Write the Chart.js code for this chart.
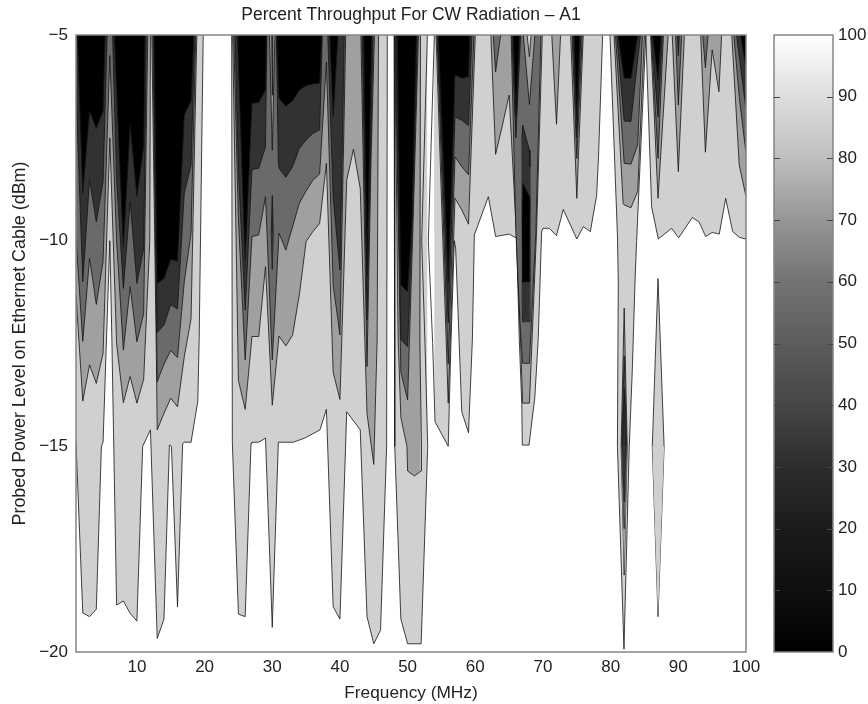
<!DOCTYPE html>
<html>
<head>
<meta charset="utf-8">
<title>Percent Throughput For CW Radiation</title>
<script src="https://cdn.jsdelivr.net/npm/chart.js@4"></script>
<style>
  body { margin: 0; background: #fff; }
  canvas { position: absolute; top: 0; }
  #contourChart { left: 0; }
  #colorbarChart { left: 740px; }
</style>
</head>
<body>
<canvas id="contourChart" width="868" height="704"></canvas>
<canvas id="colorbarChart" width="128" height="704"></canvas>
<script>
// tick labels
const freqTicks = [10, 20, 30, 40, 50, 60, 70, 80, 90, 100];
const powerTicks = [-5, -10, -15, -20];
const colorbarTicks = [0, 10, 20, 30, 40, 50, 60, 70, 80, 90, 100];
// colorbar grey at every 10 percent
const colorbarGreys = [0, 15, 27, 45, 70, 92, 115, 150, 190, 222, 255];

// contour lines as [MHz, dBm]. Region above a line is darker than the one below
const level100 = [[1,-14.9],[2,-19.05],[3,-19.14],[4,-18.96],[4.75,-15],[5,-14.9],[5.45,-12.66],[6,-10],[6.3,-12.4],[7,-18.86],[8,-18.76],[9,-19.06],[10,-19.25],[10.85,-15],[12,-14.6],[13,-19.67],[14,-19.2],[14.8,-14.97],[15.1,-15],[16,-18.9],[16.76,-14.93],[17,-14.9],[18,-14.9],[19,-13.9],[19.2,-12.4],[19.8,-5],[24,-5],[24.1,-14.9],[25,-19.08],[26,-19.14],[26.86,-14.93],[27,-14.9],[28,-14.9],[29,-14.8],[30,-19.4],[30.9,-14.9],[32,-14.9],[33.1,-14.9],[34.8,-14.8],[37.05,-14.6],[38,-14.1],[39,-18.9],[40,-19.2],[41,-14.16],[43,-14.6],[44,-19.14],[45,-19.8],[46,-19.47],[46.9,-15],[47,-5],[48,-5],[48.1,-15],[49,-19.2],[50,-19.8],[52,-19.8],[52.97,-15],[52.57,-12.5],[52.08,-10],[52.92,-5],[53.95,-5],[53.06,-10],[53.7,-12.5],[54.05,-14.4],[56,-15],[56.4,-12.5],[56.9,-10],[57.1,-10.2],[57.6,-12.4],[58,-14.16],[59,-14.67],[59.57,-12.4],[59.86,-9.86],[61.93,-8.93],[63,-9.9],[65,-9.84],[66.1,-9.94],[66.5,-12.4],[66.86,-13.95],[66.95,-14.97],[67.94,-14.97],[68.8,-13.8],[69.3,-12.4],[69.8,-9.78],[70,-9.7],[70.94,-9.7],[72,-9.88],[73,-9.24],[75,-9.96],[75.96,-9.66],[77,-9.78],[77.93,-8.9],[78.2,-8],[78.82,-5],[79.9,-5],[81,-9.86],[81.13,-11],[81,-15],[81.97,-19.93],[82.75,-15],[83.2,-13.15],[83.6,-11],[83.84,-10],[85.2,-5],[86.05,-9.17],[87.04,-9.96],[89,-9.7],[90.05,-9.93],[92.06,-9.44],[93.05,-9.54],[94.04,-9.9],[95.02,-9.8],[96.05,-9.84],[97,-8.97],[98.03,-9.78],[99.01,-9.92],[100,-9.96]];
const level80 = [[1,-11.32],[2,-13.9],[3,-13.02],[4,-13.47],[5,-12.74],[6,-7.5],[7,-12.5],[8,-13.94],[9,-13.3],[10,-13.95],[11,-13.37],[11.9,-10],[12,-5],[12.2,-5],[12.85,-12.5],[13,-14.6],[14,-14.2],[15,-13.83],[16,-14.04],[17,-12.82],[18,-11.9],[18.85,-5],[24.15,-5],[24.9,-12.4],[25,-13.4],[26,-14.1],[27,-12.33],[28,-12.33],[29,-10.63],[30,-14],[31,-12.32],[32,-12.56],[33,-12.3],[34,-11.32],[35,-10.02],[36,-9.78],[37,-9.58],[38,-8.12],[39,-13.2],[40,-13.86],[41,-8.53],[42,-7.78],[43,-8.73],[44,-14.2],[45,-15.44],[45.5,-12.4],[45.7,-5],[48.1,-5],[48.6,-12.4],[49,-14.3],[49.9,-15],[50,-15.6],[51,-15.72],[52,-15.6],[52.05,-15],[51.8,-12.4],[51.9,-5],[54.2,-5],[56,-13.95],[57,-8.97],[58,-9.25],[59,-9.6],[60,-5],[62.3,-5],[63,-7.9],[64,-7.2],[65,-6.46],[66.1,-9.9],[66.7,-12.5],[67,-13.95],[68,-13.95],[69.05,-9.8],[69.9,-5],[71.3,-5],[72,-7.17],[72.6,-5],[74.1,-5],[75,-8.97],[75.95,-5],[80.5,-5],[81.85,-9.1],[82,-9.13],[83,-9.2],[84,-8.8],[85,-5],[85.9,-5],[87,-8.97],[88.5,-5],[89.1,-5],[90,-8.32],[90.9,-5],[93.3,-5],[94,-7.85],[95,-5.36],[96,-6.38],[96.4,-5],[97.9,-5],[99,-8.16],[100,-8.93]];
const level60 = [[1,-9.94],[2,-12.45],[3,-10.43],[4,-11.55],[5,-10.5],[6,-5.5],[7,-10],[8,-12.66],[9,-11.12],[10,-12.46],[11,-11.77],[11.6,-5],[12.35,-5],[13,-13.43],[14,-13],[15,-12.67],[16,-12.84],[17,-11],[18,-9.82],[18.7,-5],[24.3,-5],[25,-9.5],[26,-12.9],[27,-9.9],[28,-9.86],[29,-8.93],[30,-12.9],[31,-9.82],[32,-10.23],[33,-9.66],[34,-9.09],[35,-8.79],[36,-8.53],[37,-8.38],[38,-5.66],[39,-11.08],[40,-12.29],[40.85,-5],[43.1,-5],[44,-13.06],[44.6,-8],[45.1,-5],[48.15,-5],[49,-13.2],[50,-13.87],[50.8,-9.6],[51.6,-5],[54.35,-5],[56,-13],[57,-7.96],[58,-8.2],[59,-8.4],[59.8,-5],[62.65,-5],[63,-5.9],[63.75,-5],[65.3,-5],[66,-9.8],[66.6,-12],[67,-12.98],[68,-12.98],[68.95,-9.8],[69.7,-5],[74.3,-5],[75,-8],[75.8,-5],[80.7,-5],[82,-8.12],[83,-8.14],[84,-7.67],[84.7,-5],[86,-5],[87,-8],[87.8,-5],[89.6,-5],[90,-6.7],[90.5,-5],[93.6,-5],[94,-5.8],[94.4,-5],[98.2,-5],[99,-6.5],[100,-7.88]];
const level40 = [[1,-6.3],[2,-11],[3,-8.52],[4,-9.54],[5,-8.56],[5.6,-5],[6.4,-5],[7,-8.5],[8,-11.16],[9,-9.05],[10,-11.04],[11,-10.2],[11.4,-5],[12.45,-5],[13,-12.23],[14,-12.05],[15,-11.55],[16,-11.66],[17,-8.85],[18,-8.16],[18.55,-5],[24.5,-5],[25,-8.3],[26,-11.69],[27,-8.27],[28,-8.24],[29,-7.72],[29.2,-5],[30.6,-5],[30.9,-8.1],[31,-8.24],[32,-8.46],[33,-8.2],[34,-7.76],[35,-7.55],[36,-7.39],[37,-7.31],[37.4,-5],[38.2,-5],[39,-8.97],[40,-10.71],[40.65,-5],[43.3,-5],[44,-11.93],[44.9,-5],[48.25,-5],[49,-12.4],[50,-12.58],[50.7,-9.6],[51.45,-5],[54.45,-5],[56,-12],[57,-6.99],[58,-7.07],[59,-7.2],[59.5,-5],[65.4,-5],[66,-7.5],[66.7,-5],[74.45,-5],[75,-7.5],[75.6,-5],[80.9,-5],[82,-7.09],[83,-7.1],[84,-5.6],[84.4,-5],[86.05,-5],[87,-7],[87.65,-5],[89.85,-5],[90,-5.5],[90.15,-5],[98.6,-5],[100,-6.8]];
const level20 = [[1,-5],[1.2,-5],[2,-8.85],[3,-6.85],[4,-7.27],[5,-6.85],[5.3,-5],[6.65,-5],[8,-10.15],[9,-7.19],[10,-8.93],[11,-7.7],[11.2,-5],[12.55,-5],[13,-11.04],[14,-10.92],[15,-10.45],[16,-10.5],[17,-6.94],[18,-6.6],[18.4,-5],[24.85,-5],[26,-10.47],[27,-6.66],[28,-6.64],[29,-6.34],[29.15,-5],[30.65,-5],[31,-6.54],[32,-6.73],[33,-6.6],[34,-6.34],[35,-6.23],[36,-6.19],[37,-6.17],[37.3,-5],[38.5,-5],[39,-6.99],[39.7,-5],[43.5,-5],[44,-10.83],[44.7,-5],[48.45,-5],[49,-11.08],[50,-11.24],[50.6,-9.6],[51.3,-5],[54.55,-5],[56,-11],[57,-5.97],[58,-6.05],[59,-6.01],[59.2,-5],[65.6,-5],[66,-6.95],[66.55,-5],[74.6,-5],[75,-7.03],[75.45,-5],[81.1,-5],[82,-6.05],[83,-6.05],[84,-5],[86.2,-5],[87,-6.1],[87.45,-5],[99.2,-5],[100,-5.8]];

// wedges hanging from the top edge, where a column gets lighter again
const wedge30Mid = [[29.6,-5],[30,-7.8],[30.4,-5]];
const wedge30Dark = [[29.92,-5],[30,-6.46],[30.08,-5]];
const wedge68Mid = [[67.1,-5],[68,-6.69],[68.8,-5]];
const wedge68Light = [[67.65,-5],[68,-5.53],[68.25,-5]];

// closed islands, each an upper and a lower edge
const island30Upper = [[29.85,-9.8],[30,-8.9],[30.15,-9.8]];
const island30Lower = [[29.85,-9.8],[30,-10.7],[30.15,-9.8]];
const island67DarkUpper = [[66.9,-7.5],[67,-7.19],[68,-7.8],[68.08,-8.2]];
const island67DarkLower = [[66.9,-7.5],[66.95,-11.8],[67,-11.97],[68,-11.97],[68.08,-8.2]];
const island67BlackUpper = [[66.95,-9],[67,-8.6],[68,-8.93],[68.05,-9.3]];
const island67BlackLower = [[66.95,-9],[67,-11],[68,-11],[68.05,-9.3]];
const island82MidUpper = [[81.55,-15],[82,-11.64],[82.45,-15]];
const island82MidLower = [[81.55,-15],[82,-18.13],[82.45,-15]];
const island82GreyUpper = [[81.65,-15],[82,-12.8],[82.35,-15]];
const island82GreyLower = [[81.65,-15],[82,-17],[82.35,-15]];
const island82DarkUpper = [[81.75,-15],[82,-13.58],[82.25,-15]];
const island82DarkLower = [[81.75,-15],[82,-16.35],[82.25,-15]];
const island87Upper = [[86.15,-15],[87,-10.92],[87.9,-15]];
const island87Lower = [[86.15,-15],[87,-19.14],[87.9,-15]];

const LIGHT = 'rgb(208,208,208)';
const MID = 'rgb(160,160,160)';
const GREY = 'rgb(106,106,106)';
const DARK = 'rgb(50,50,50)';
const BLACK = 'rgb(0,0,0)';
const LINE = 'rgba(20,20,20,0.8)';
const FAMILY = '"Liberation Sans", Helvetica, Arial, sans-serif';
const FONT = { family: FAMILY, size: 17 };
const TEXT = '#222';

function contour(points, colour) {
    return {
        data: points,
        fill: 'end',
        backgroundColor: colour,
        borderColor: LINE,
        borderWidth: 1,
        pointRadius: 0,
        tension: 0,
        // no stroke where the line only runs along the top edge
        segment: { borderColor: c => (c.p0.parsed.y === -5 && c.p1.parsed.y === -5) ? 'transparent' : undefined }
    };
}

function island(upper, lower, colour) {
    const top = { data: upper, fill: '+1', backgroundColor: colour, borderColor: LINE, borderWidth: 1, pointRadius: 0, tension: 0 };
    const bottom = { data: lower, fill: false, borderColor: LINE, borderWidth: 1, pointRadius: 0, tension: 0 };
    return [top, bottom];
}

// first dataset is painted last, so the darkest and the small shapes come first
const datasets = [
    ...island(island67BlackUpper, island67BlackLower, BLACK),
    ...island(island67DarkUpper, island67DarkLower, DARK),
    ...island(island30Upper, island30Lower, DARK),
    ...island(island82DarkUpper, island82DarkLower, DARK),
    ...island(island82GreyUpper, island82GreyLower, GREY),
    ...island(island82MidUpper, island82MidLower, MID),
    ...island(island87Upper, island87Lower, LIGHT),
    contour(wedge30Dark, DARK),
    contour(wedge30Mid, MID),
    contour(wedge68Light, LIGHT),
    contour(wedge68Mid, MID),
    contour(level20, BLACK),
    contour(level40, DARK),
    contour(level60, GREY),
    contour(level80, MID),
    contour(level100, LIGHT)
];

const frame = {
    id: 'frame',
    afterDatasetsDraw(chart) {
        const a = chart.chartArea, ctx = chart.ctx;
        ctx.save();
        ctx.strokeStyle = '#858585';
        ctx.lineWidth = 1.5;
        ctx.strokeRect(a.left, a.top, a.right - a.left, a.bottom - a.top);
        ctx.restore();
    }
};

new Chart(document.getElementById('contourChart'), {
    type: 'line',
    data: { datasets: datasets },
    options: {
        responsive: false,
        animation: false,
        layout: { padding: { right: 122 } },
        plugins: {
            legend: { display: false },
            tooltip: { enabled: false },
            title: {
                display: true,
                fullSize: false,
                text: 'Percent Throughput For CW Radiation \u2013 A1',
                color: TEXT,
                font: { family: FAMILY, size: 17.5, weight: 'normal' },
                padding: { top: 5, bottom: 9 }
            }
        },
        scales: {
            x: {
                type: 'linear',
                min: 1,
                max: 100,
                grid: { display: false, drawTicks: false },
                border: { display: false },
                afterBuildTicks: s => { s.ticks = freqTicks.map(v => ({ value: v })); },
                afterFit: s => { s.height = 52; s.paddingLeft = 0; s.paddingRight = 0; },
                ticks: { color: TEXT, font: FONT, padding: 5, maxRotation: 0, autoSkip: false },
                title: { display: true, text: 'Frequency (MHz)', color: TEXT, font: { family: FAMILY, size: 17.3 }, padding: { top: 0, bottom: 0 } }
            },
            y: {
                min: -20,
                max: -5,
                grid: { display: false, drawTicks: false },
                border: { display: false },
                afterBuildTicks: s => { s.ticks = powerTicks.map(v => ({ value: v })); },
                afterFit: s => { s.width = 76; s.paddingTop = 0; s.paddingBottom = 0; },
                ticks: { color: TEXT, font: FONT, padding: 8, autoSkip: false, callback: v => String(v).replace('-', '\u2212') },
                title: { display: true, text: 'Probed Power Level on Ethernet Cable (dBm)', color: TEXT, font: { family: FAMILY, size: 17.9 }, padding: { top: 9, bottom: 0 } }
            }
        }
    },
    plugins: [frame]
});

const colorbarTickMarks = {
    id: 'colorbarTickMarks',
    afterDatasetsDraw(chart) {
        const a = chart.chartArea, ctx = chart.ctx, y = chart.scales.y;
        ctx.save();
        ctx.strokeStyle = '#444';
        ctx.lineWidth = 1;
        colorbarTicks.slice(1, -1).forEach(v => {
            const py = Math.round(y.getPixelForValue(v)) + 0.5;
            ctx.beginPath();
            ctx.moveTo(a.left, py);
            ctx.lineTo(a.left + 6, py);
            ctx.moveTo(a.right - 6, py);
            ctx.lineTo(a.right, py);
            ctx.stroke();
        });
        ctx.restore();
    }
};

new Chart(document.getElementById('colorbarChart'), {
    type: 'bar',
    data: {
        labels: [''],
        datasets: [{
            data: [100],
            barPercentage: 1,
            categoryPercentage: 1,
            backgroundColor: c => {
                const a = c.chart.chartArea;
                if (!a) return '#888';
                const g = c.chart.ctx.createLinearGradient(0, a.bottom, 0, a.top);
                colorbarGreys.forEach((v, i) => g.addColorStop(i / (colorbarGreys.length - 1), `rgb(${v},${v},${v})`));
                return g;
            }
        }]
    },
    options: {
        responsive: false,
        animation: false,
        layout: { padding: { left: 34, top: 35, bottom: 52 } },
        plugins: { legend: { display: false }, tooltip: { enabled: false } },
        scales: {
            x: { display: false },
            y: {
                position: 'right',
                min: 0,
                max: 100,
                grid: { display: false, drawTicks: false },
                border: { display: false },
                afterBuildTicks: s => { s.ticks = colorbarTicks.map(v => ({ value: v })); },
                afterFit: s => { s.width = 35; s.paddingTop = 0; s.paddingBottom = 0; },
                ticks: { color: TEXT, font: FONT, padding: 5, autoSkip: false }
            }
        }
    },
    plugins: [frame, colorbarTickMarks]
});
</script>
</body>
</html>
